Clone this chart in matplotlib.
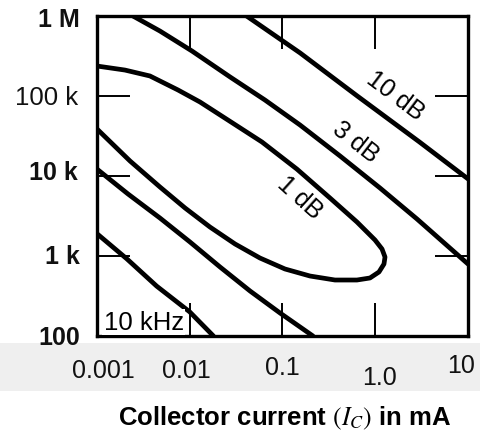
import matplotlib
matplotlib.use("Agg")
import matplotlib.pyplot as plt
from matplotlib.patches import Rectangle
from matplotlib.ticker import NullLocator
from matplotlib.transforms import ScaledTranslation

plt.rcParams['font.family'] = ['Liberation Sans', 'DejaVu Sans']
plt.rcParams['mathtext.fontset'] = 'stix'

# Noise-figure contours: collector current (mA) vs. source resistance (ohm)
ic_1db = [0.001, 0.002, 0.00372, 0.00746, 0.0129, 0.0258, 0.0601, 0.143, 0.325, 0.635,
          0.994, 1.183, 1.274, 1.242, 1.097, 0.877, 0.635, 0.368, 0.198, 0.1064,
          0.0571, 0.0308, 0.0165, 0.0089, 0.00477, 0.00227, 0.001]
rs_1db = [2.37e5, 2.11e5, 1.78e5, 1.19e5, 8.41e4, 5.01e4, 2.66e4, 1.22e4, 5309, 2660,
          1585, 1223, 971, 794, 631, 531, 501, 501, 562, 688,
          944, 1413, 2304, 3981, 7290, 1.54e4, 3.87e4]

ic_3db_upper = [0.00244, 0.00477, 0.01057, 0.0272, 0.0647, 0.1545, 0.417, 1.125, 2.82, 10]
rs_3db_upper = [1e6, 6.49e5, 3.65e5, 1.73e5, 8.91e4, 4.34e4, 1.78e4, 7080, 2900, 794]
ic_3db_lower = [0.001, 0.00216, 0.00477, 0.01006, 0.0212, 0.0447, 0.094, 0.213]
rs_3db_lower = [1.22e4, 5957, 2985, 1496, 729, 365, 194, 100]

ic_10db_upper = [0.041, 0.155, 0.64, 3.0, 10]
rs_10db_upper = [1e6, 3.45e5, 1.0e5, 2.66e4, 9.2e3]
ic_10db_lower = [0.001, 0.0021, 0.0044, 0.01, 0.018]
rs_10db_lower = [1.9e3, 920, 420, 200, 100]

xtick_values = [0.001, 0.01, 0.1, 1.0, 10]
xtick_labels = ["0.001", "0.01", "0.1", "1.0", "10"]
ytick_values = [1e6, 1e5, 1e4, 1e3, 1e2]
ytick_labels = ["1 M", "100 k", "10 k", "1 k", "100"]
ytick_bold = [True, False, True, True, True]

W, H = 481, 439
fig = plt.figure(figsize=(W / 100, H / 100), dpi=100)
fig.patch.set_facecolor('white')

# light band behind the current scale
fig.patches.append(Rectangle((0, 1 - 392 / H), 1, 48 / H, transform=fig.transFigure,
                             facecolor='#efefef', edgecolor='none', zorder=-1))

ax = fig.add_axes([97 / W, 1 - 337 / H, 371 / W, 320 / H])
ax.set_xscale('log')
ax.set_yscale('log')
ax.set_xlim(1e-3, 10)
ax.set_ylim(100, 1e6)

lw = 3.4
kw = dict(color='black', lw=lw, solid_capstyle='round', solid_joinstyle='round', zorder=2)
ax.plot(ic_1db, rs_1db, **kw)
ax.plot(ic_3db_upper, rs_3db_upper, **kw)
ax.plot(ic_3db_lower, rs_3db_lower, **kw)
ax.plot(ic_10db_upper, rs_10db_upper, **kw)
ax.plot(ic_10db_lower, rs_10db_lower, **kw)

for s in ax.spines.values():
    s.set_linewidth(2.4)

ax.set_xticks(xtick_values)
ax.set_yticks(ytick_values)
ax.xaxis.set_minor_locator(NullLocator())
ax.yaxis.set_minor_locator(NullLocator())
ax.tick_params(which='major', direction='in', length=24, width=1.4,
               top=True, right=True, labelbottom=False, labelleft=False)


def shift(dx, dy):
    return ScaledTranslation(dx / 100, dy / 100, fig.dpi_scale_trans)


# current scale labels (pixel nudges: dx, dy)
x_nudges = [(6, -41), (-3, -41), (0, -38), (4, -48), (-7, -36)]
for v, lab, (dx, dy) in zip(xtick_values, xtick_labels, x_nudges):
    ax.text(v, 0, lab, transform=ax.get_xaxis_transform() + shift(dx, dy),
            ha='center', va='baseline', fontsize=18, color='#111111')

# resistance scale labels
y_nudges = [(-17, -10), (-19, -8), (-19, -3), (-17, -7), (-17, -8)]
for v, lab, bold, (dx, dy) in zip(ytick_values, ytick_labels, ytick_bold, y_nudges):
    ax.text(0, v, lab, transform=ax.get_yaxis_transform() + shift(dx, dy),
            ha='right', va='baseline', fontsize=18 if bold else 18.5,
            fontweight='bold' if bold else 'normal', color='#111111')

# contour labels
ax.text(1.63, 1.03e5, "10 dB", rotation=-37, rotation_mode='anchor',
        ha='center', va='center', fontsize=18, zorder=3)
ax.text(0.62, 2.74e4, "3 dB", rotation=-38, rotation_mode='anchor',
        ha='center', va='center', fontsize=18, zorder=3)
ax.text(0.155, 5.46e3, "1 dB", rotation=-42, rotation_mode='anchor',
        ha='center', va='center', fontsize=18, zorder=3)
ax.text(0.00118, 122, "10 kHz", ha='left', va='baseline', fontsize=18.5, zorder=3,
        bbox=dict(facecolor='white', edgecolor='none', pad=1.0))

fig.text(285 / W, 1 - 425 / H, "Collector current $(I_C)$ in mA",
         ha='center', va='baseline', fontsize=18.5, fontweight='bold')

fig.savefig("out.png", dpi=100)
